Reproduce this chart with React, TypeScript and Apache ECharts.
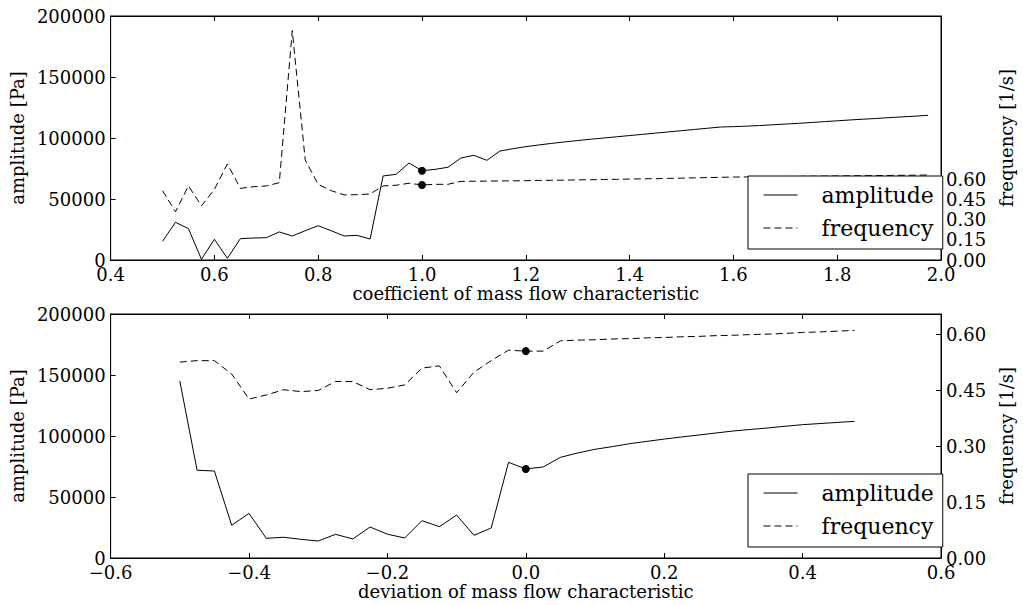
import React, { useEffect, useRef } from "react";
import * as echarts from "echarts";

// ---- Top plot data (coefficient of mass flow characteristic) ----
const topX: number[] = [
  0.5, 0.525, 0.55, 0.575, 0.6, 0.625, 0.65, 0.675, 0.7, 0.725,
  0.75, 0.775, 0.8, 0.825, 0.85, 0.875, 0.9, 0.925, 0.95, 0.975,
  1.0, 1.025, 1.05, 1.075, 1.1, 1.125, 1.15, 1.175, 1.2, 1.225,
  1.25, 1.275, 1.3, 1.325, 1.35, 1.375, 1.4, 1.425, 1.45, 1.475,
  1.5, 1.525, 1.55, 1.575, 1.6, 1.625, 1.65, 1.675, 1.7, 1.725,
  1.75, 1.775, 1.8, 1.825, 1.85, 1.875, 1.9, 1.925, 1.95, 1.975,
];
const topAmplitude: number[] = [
  15300, 30900, 25700, 600, 17000, 1400, 17500, 18000, 18300, 23000,
  19700, 24000, 28100, 24000, 19700, 20200, 17200, 68900, 70200, 79500,
  73200, 74300, 76000, 83600, 85800, 81700, 89300, 91200, 92900, 94300,
  95600, 96800, 97900, 99000, 100000, 101000, 102000, 103000, 104000, 105000,
  106000, 107000, 108000, 109000, 109300, 109700, 110200, 110800, 111400, 112000,
  112700, 113400, 114100, 114800, 115400, 116000, 116700, 117300, 117900, 118600,
];
const topFrequency: number[] = [
  0.516, 0.359, 0.551, 0.402, 0.526, 0.714, 0.533, 0.545, 0.551, 0.575,
  1.706, 0.744, 0.563, 0.516, 0.484, 0.486, 0.491, 0.551, 0.556, 0.571,
  0.558, 0.563, 0.563, 0.585, 0.586, 0.587, 0.588, 0.589, 0.59, 0.592,
  0.593, 0.594, 0.596, 0.597, 0.599, 0.6, 0.602, 0.604, 0.605, 0.607,
  0.609, 0.611, 0.613, 0.615, 0.617, 0.618, 0.619, 0.62, 0.621, 0.622,
  0.623, 0.624, 0.625, 0.626, 0.627, 0.628, 0.629, 0.63, 0.631, 0.632,
];

// ---- Bottom plot data (deviation of mass flow characteristic) ----
const bottomX: number[] = [
  -0.5, -0.475, -0.45, -0.425, -0.4, -0.375, -0.35, -0.325, -0.3, -0.275,
  -0.25, -0.225, -0.2, -0.175, -0.15, -0.125, -0.1, -0.075, -0.05, -0.025,
  0.0, 0.025, 0.05, 0.075, 0.1, 0.125, 0.15, 0.175, 0.2, 0.225,
  0.25, 0.275, 0.3, 0.325, 0.35, 0.375, 0.4, 0.425, 0.45, 0.475,
];
const bottomAmplitude: number[] = [
  145100, 71900, 71300, 26800, 36600, 16100, 17000, 15300, 13900, 19400,
  15600, 25400, 19500, 16400, 30600, 25700, 35200, 18600, 24600, 78400,
  73000, 74600, 82500, 86100, 89100, 91300, 93700, 95600, 97500, 99200,
  100800, 102500, 104100, 105400, 106600, 108000, 109300, 110200, 111100, 112000,
];
const bottomFrequency: number[] = [
  0.525, 0.529, 0.529, 0.493, 0.426, 0.437, 0.451, 0.446, 0.449, 0.473,
  0.473, 0.451, 0.455, 0.464, 0.509, 0.515, 0.443, 0.498, 0.529, 0.557,
  0.5545, 0.5545, 0.582, 0.584, 0.585, 0.587, 0.588, 0.59, 0.591, 0.593,
  0.594, 0.596, 0.597, 0.599, 0.6, 0.602, 0.6045, 0.606, 0.608, 0.61,
];

// Operating point marked by a dot
const topMarkX = 1.0;
const bottomMarkX = 0.0;

// Tick labels
const freqTicks: number[] = [0, 0.15, 0.3, 0.45, 0.6];
const seriesNames: string[] = ["amplitude", "frequency"];
const axisTitles = {
  topX: "coefficient of mass flow characteristic",
  bottomX: "deviation of mass flow characteristic",
  amp: "amplitude [Pa]",
  freq: "frequency [1/s]",
};

const FONT = "DejaVu Serif";
const BLACK = "#000";
const DASH = [7, 4];

function pairs(xs: number[], ys: number[]) {
  return xs.map((x, i) => [x, ys[i]]);
}
function markAt(xs: number[], ys: number[], x0: number) {
  const i = xs.findIndex((x) => Math.abs(x - x0) < 1e-9);
  return i >= 0 ? [[xs[i], ys[i]]] : [];
}
function fmtX(v: number) {
  if (Math.abs(v) < 1e-9) return "0.0";
  const s = Math.abs(v).toFixed(1);
  return v < 0 ? "\u2212" + s : s;
}

export default function App() {
  const ref = useRef<HTMLDivElement>(null);

  useEffect(() => {
    if (!ref.current) return;
    const chart = echarts.init(ref.current, undefined, { renderer: "svg" });

    const tickStyle = { inside: true, length: 5, lineStyle: { color: BLACK, width: 1 } };
    const lineAxis = { show: true, onZero: false, lineStyle: { color: BLACK, width: 1 } };
    const labelStyle = { fontFamily: FONT, fontSize: 18, color: BLACK };
    const nameStyle = { fontFamily: FONT, fontSize: 18, color: BLACK };

    const mkX = (grid: number, min: number, max: number, name: string) => [
      {
        type: "value", gridIndex: grid, min, max, interval: 0.2, position: "bottom",
        axisLine: lineAxis, axisTick: tickStyle, splitLine: { show: false },
        axisLabel: { ...labelStyle, margin: 5, formatter: fmtX },
        name, nameLocation: "middle", nameGap: 24, nameTextStyle: nameStyle,
      },
      {
        type: "value", gridIndex: grid, min, max, interval: 0.2, position: "top",
        axisLine: lineAxis, axisTick: tickStyle, splitLine: { show: false },
        axisLabel: { show: false },
      },
    ];
    const mkY = (grid: number, fmax: number) => [
      {
        type: "value", gridIndex: grid, min: 0, max: 200000, interval: 50000, position: "left",
        axisLine: lineAxis, axisTick: tickStyle, splitLine: { show: false },
        axisLabel: { ...labelStyle, margin: 5, formatter: (v: number) => String(v) },
        name: axisTitles.amp, nameLocation: "middle", nameGap: 80, nameTextStyle: nameStyle,
      },
      {
        type: "value", gridIndex: grid, min: 0, max: fmax, position: "right",
        axisLine: lineAxis,
        axisTick: { ...tickStyle, customValues: freqTicks },
        splitLine: { show: false },
        axisLabel: { ...labelStyle, margin: 5, customValues: freqTicks, formatter: (v: number) => v.toFixed(2) },
        name: axisTitles.freq, nameLocation: "middle", nameGap: 50, nameTextStyle: nameStyle,
      },
    ];

    const mkLegend = (top: number) => ({
      left: 748, top, orient: "vertical",
      data: seriesNames,
      itemWidth: 34, itemHeight: 14, itemGap: 11,
      padding: [8, 9, 10, 15],
      borderColor: BLACK, borderWidth: 1, borderRadius: 0,
      backgroundColor: "#fff",
      itemStyle: { color: "rgba(0,0,0,0)", borderColor: "rgba(0,0,0,0)", borderWidth: 0, opacity: 0 },
      lineStyle: { color: BLACK, width: 1 },
      textStyle: { fontFamily: FONT, fontSize: 22, color: BLACK, padding: [0, 0, 0, 19] },
      selectedMode: false,
    });

    const lineSeries = (name: string, xi: number, yi: number, data: number[][], dashed: boolean) => ({
      type: "line", name, xAxisIndex: xi, yAxisIndex: yi, data,
      symbol: "none", showSymbol: false,
      lineStyle: { color: BLACK, width: 1, type: dashed ? DASH : "solid" },
      itemStyle: { color: BLACK },
      z: 2,
    });
    const dotSeries = (xi: number, yi: number, data: number[][]) => ({
      type: "scatter", xAxisIndex: xi, yAxisIndex: yi, data,
      symbol: "circle", symbolSize: 8, itemStyle: { color: BLACK, opacity: 1 }, z: 3,
    });

    chart.setOption({
      animation: false,
      backgroundColor: "#fff",
      textStyle: { fontFamily: FONT },
      grid: [
        { left: 105, top: 16, width: 849, height: 244, show: true, borderColor: BLACK, borderWidth: 1, backgroundColor: "transparent" },
        { left: 105, top: 314, width: 849, height: 244, show: true, borderColor: BLACK, borderWidth: 1, backgroundColor: "transparent" },
      ],
      xAxis: [...mkX(0, 0.4, 2.0, axisTitles.topX), ...mkX(1, -0.6, 0.6, axisTitles.bottomX)],
      yAxis: [...mkY(0, 1.815), ...mkY(1, 0.654)],
      legend: [mkLegend(176), mkLegend(474)],
      series: [
        lineSeries(seriesNames[0], 0, 0, pairs(topX, topAmplitude), false),
        lineSeries(seriesNames[1], 0, 1, pairs(topX, topFrequency), true),
        dotSeries(0, 0, markAt(topX, topAmplitude, topMarkX)),
        dotSeries(0, 1, markAt(topX, topFrequency, topMarkX)),
        lineSeries(seriesNames[0], 2, 2, pairs(bottomX, bottomAmplitude), false),
        lineSeries(seriesNames[1], 2, 3, pairs(bottomX, bottomFrequency), true),
        dotSeries(2, 2, markAt(bottomX, bottomAmplitude, bottomMarkX)),
        dotSeries(2, 3, markAt(bottomX, bottomFrequency, bottomMarkX)),
      ],
    });

    return () => chart.dispose();
  }, []);

  return (
    <div
      ref={ref}
      style={{ position: "fixed", left: 0, top: 0, width: 1023, height: 605, background: "#fff" }}
    />
  );
}
